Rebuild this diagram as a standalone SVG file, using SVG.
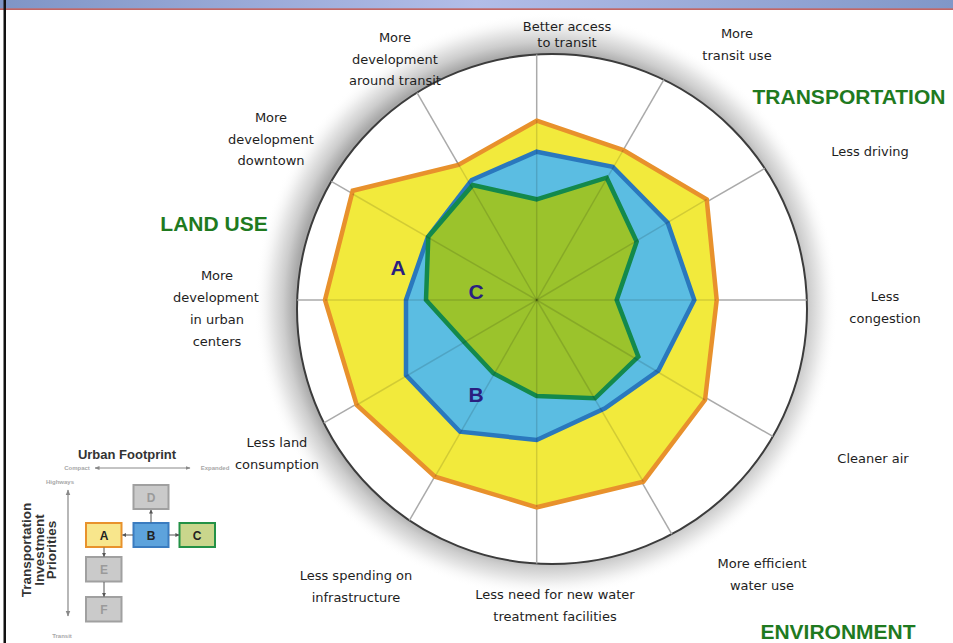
<svg xmlns="http://www.w3.org/2000/svg" width="953" height="643" viewBox="0 0 953 643">
  <defs>
    <linearGradient id="banner" x1="0" y1="0" x2="1" y2="0">
      <stop offset="0" stop-color="#7f95c6"/>
      <stop offset="0.5" stop-color="#b2bde8"/>
      <stop offset="1" stop-color="#8097c8"/>
    </linearGradient>
    <radialGradient id="halo" gradientUnits="userSpaceOnUse" cx="546" cy="305" r="292">
      <stop offset="0.86" stop-color="#a8a8a8"/>
      <stop offset="0.9" stop-color="#cdcdcd"/>
      <stop offset="0.95" stop-color="#eeeeee"/>
      <stop offset="1" stop-color="#ffffff" stop-opacity="0"/>
    </radialGradient>
    <marker id="ah" viewBox="0 0 10 10" refX="9" refY="5" markerWidth="4" markerHeight="4" orient="auto-start-reverse">
      <path d="M0,0 L10,5 L0,10 z" fill="#555"/>
    </marker>
    <marker id="ahg" viewBox="0 0 10 10" refX="9" refY="5" markerWidth="5" markerHeight="5" orient="auto-start-reverse">
      <path d="M0,1 L10,5 L0,9 z" fill="#888"/>
    </marker>
    <style>
      .lbl { font-family: "DejaVu Sans", Verdana, sans-serif; font-size: 13px; fill: #1e1e1e; text-anchor: middle; }
      .cat { font-family: "Liberation Sans", Arial, sans-serif; font-weight: bold; font-size: 21px; fill: #1f7a1f; text-anchor: middle; }
      .abc { font-family: "Liberation Sans", Arial, sans-serif; font-weight: bold; font-size: 21px; fill: #2a1f80; text-anchor: middle; }
      .spoke { stroke: #aaaaaa; stroke-width: 1.5; fill: none; }
      .spoke2 { stroke: #000; stroke-opacity: 0.13; stroke-width: 1.5; fill: none; }
      .ins { font-family: "Liberation Sans", Arial, sans-serif; font-weight: bold; text-anchor: middle; }
      .box { stroke-width: 2; }
      .gbox { fill: #cacaca; stroke: #a0a0a0; stroke-width: 2; }
      .gl { fill: #9a9a9a; font-size: 12px; }
      .tiny { fill: #a8a8a8; font-size: 6px; }
      .ia { stroke: #555; stroke-width: 1; fill: none; }
    </style>
  </defs>

  <rect x="0" y="0" width="953" height="643" fill="#ffffff"/>
  <rect x="0" y="0" width="953" height="8.5" fill="url(#banner)"/>
  <rect x="0" y="8.5" width="953" height="1.2" fill="#a42424"/>
  <rect x="3.5" y="0" width="2.5" height="643" fill="#111"/>

  <!-- radar chart -->
  <g id="chart">
    <circle cx="546" cy="305" r="292" fill="url(#halo)"/>
    <circle cx="552" cy="309" r="255" fill="#ffffff" stroke="#3c3c3c" stroke-width="2"/>
    <g id="spokes" class="spoke">
      <line x1="536.7" y1="300" x2="536.7" y2="54.5"/>
      <line x1="536.7" y1="300" x2="663.9" y2="79.7"/>
      <line x1="536.7" y1="300" x2="764.7" y2="168.4"/>
      <line x1="536.7" y1="300" x2="806.8" y2="300"/>
      <line x1="536.7" y1="300" x2="772.9" y2="436.4"/>
      <line x1="536.7" y1="300" x2="671.8" y2="534.1"/>
      <line x1="536.7" y1="300" x2="536.7" y2="563.5"/>
      <line x1="536.7" y1="300" x2="409.4" y2="520.4"/>
      <line x1="536.7" y1="300" x2="323.9" y2="422.9"/>
      <line x1="536.7" y1="300" x2="297.2" y2="300"/>
      <line x1="536.7" y1="300" x2="331.3" y2="181.4"/>
      <line x1="536.7" y1="300" x2="417" y2="92.7"/>
    </g>
    <polygon id="polyA" points="536.7,120.7 623.3,150 706.7,199.3 716.7,300 705,400 643.3,481.7 536.7,507.3 435,476.7 356.7,405 325,300 352.7,190.7 458.3,165" fill="#f2ea3c" stroke="#e8912c" stroke-width="4.5" stroke-linejoin="miter"/>
    <polygon id="polyB" points="536.7,151.7 612.7,166.7 667.7,222.7 694.3,300 658.3,370.7 605,408.3 536.7,440 460,431.7 406,375 406,300 427.7,237.3 471.7,180" fill="#5bbde2" stroke="#2a78bd" stroke-width="4.5"/>
    <polygon id="polyC" points="536.7,199.3 606.7,177.7 636.7,241.7 616.7,300 638.3,356.7 595,398.3 536.7,396 493.3,373.3 466,344 426,300 428.3,236.7 472.7,185" fill="#9bc32c" stroke="#13894c" stroke-width="4.5"/>
    <g id="spokes-overlay" class="spoke2">
      <line x1="536.7" y1="300" x2="536.7" y2="120"/>
      <line x1="536.7" y1="300" x2="623.3" y2="150"/>
      <line x1="536.7" y1="300" x2="706.7" y2="199.3"/>
      <line x1="536.7" y1="300" x2="716" y2="300"/>
      <line x1="536.7" y1="300" x2="705" y2="400"/>
      <line x1="536.7" y1="300" x2="643.3" y2="481.7"/>
      <line x1="536.7" y1="300" x2="536.7" y2="507"/>
      <line x1="536.7" y1="300" x2="435" y2="476.7"/>
      <line x1="536.7" y1="300" x2="356.7" y2="405"/>
      <line x1="536.7" y1="300" x2="325" y2="300"/>
      <line x1="536.7" y1="300" x2="352.7" y2="194"/>
      <line x1="536.7" y1="300" x2="456" y2="160"/>
    </g>
    <text class="abc" x="398" y="275">A</text>
    <text class="abc" x="476" y="299">C</text>
    <text class="abc" x="476" y="402">B</text>
  </g>

  <!-- axis labels -->
  <g id="labels">
    <text class="lbl" x="567" y="31">Better access</text>
    <text class="lbl" x="567" y="47">to transit</text>
    <text class="lbl" x="395" y="42">More</text>
    <text class="lbl" x="395" y="64">development</text>
    <text class="lbl" x="395" y="85">around transit</text>
    <text class="lbl" x="737" y="38">More</text>
    <text class="lbl" x="737" y="60">transit use</text>
    <text class="lbl" x="870" y="156">Less driving</text>
    <text class="lbl" x="271" y="122">More</text>
    <text class="lbl" x="271" y="144">development</text>
    <text class="lbl" x="271" y="165">downtown</text>
    <text class="lbl" x="217" y="280">More</text>
    <text class="lbl" x="216" y="302">development</text>
    <text class="lbl" x="217" y="324">in urban</text>
    <text class="lbl" x="217" y="346">centers</text>
    <text class="lbl" x="885" y="301">Less</text>
    <text class="lbl" x="885" y="323">congestion</text>
    <text class="lbl" x="873" y="463">Cleaner air</text>
    <text class="lbl" x="277" y="447">Less land</text>
    <text class="lbl" x="277" y="469">consumption</text>
    <text class="lbl" x="762" y="568">More efficient</text>
    <text class="lbl" x="762" y="590">water use</text>
    <text class="lbl" x="356" y="580">Less spending on</text>
    <text class="lbl" x="356" y="602">infrastructure</text>
    <text class="lbl" x="555" y="599">Less need for new water</text>
    <text class="lbl" x="555" y="621">treatment facilities</text>
  </g>

  <g id="categories">
    <text class="cat" x="849" y="104">TRANSPORTATION</text>
    <text class="cat" x="214" y="231">LAND USE</text>
    <text class="cat" x="838" y="639">ENVIRONMENT</text>
  </g>

  <!-- inset legend -->
  <g id="inset">
    <text class="ins" x="127" y="459" font-size="13" fill="#333">Urban Footprint</text>
    <text class="ins tiny" x="77" y="470">Compact</text>
    <text class="ins tiny" x="215" y="470">Expanded</text>
    <line x1="95" y1="468" x2="190" y2="468" stroke="#888" stroke-width="1" marker-start="url(#ahg)" marker-end="url(#ahg)"/>
    <text class="ins tiny" x="60" y="484">Highways</text>
    <text class="ins tiny" x="62" y="638">Transit</text>
    <line x1="68" y1="490" x2="68" y2="616" stroke="#888" stroke-width="1.2" marker-start="url(#ahg)" marker-end="url(#ahg)"/>
    <g transform="translate(39,550) rotate(-90)">
      <text class="ins" x="0" y="-8" font-size="13.5" fill="#333">Transportation</text>
      <text class="ins" x="0" y="4.5" font-size="13.5" fill="#333">Investment</text>
      <text class="ins" x="0" y="17" font-size="13.5" fill="#333">Priorities</text>
    </g>
  </g>
  <g id="boxD"><rect class="gbox" x="133.5" y="485" width="35" height="24"/><text class="ins gl" x="151" y="501.5">D</text></g>
  <g id="boxA"><rect class="box" x="86" y="523" width="35.5" height="24" fill="#f8e68c" stroke="#e8922c"/><text class="ins" x="104" y="539.5" font-size="12" fill="#222">A</text></g>
  <g id="boxB"><rect class="box" x="133.5" y="523" width="35" height="24" fill="#5da3dc" stroke="#3a7cc0"/><text class="ins" x="151" y="539.5" font-size="12" fill="#222">B</text></g>
  <g id="boxC"><rect class="box" x="179.5" y="523" width="35.5" height="24" fill="#c9d68c" stroke="#239146"/><text class="ins" x="197" y="539.5" font-size="12" fill="#222">C</text></g>
  <g id="boxE"><rect class="gbox" x="86" y="557" width="35.5" height="24.5"/><text class="ins gl" x="104" y="573.5">E</text></g>
  <g id="boxF"><rect class="gbox" x="86" y="597" width="35.5" height="24.5"/><text class="ins gl" x="104" y="613.5">F</text></g>
  <g id="inset-connectors">
    <line class="ia" x1="133" y1="535" x2="122.5" y2="535" marker-end="url(#ah)"/>
    <line class="ia" x1="169" y1="535" x2="179" y2="535" marker-end="url(#ah)"/>
    <line class="ia" x1="151" y1="522.5" x2="151" y2="510" marker-end="url(#ah)"/>
    <line class="ia" x1="104" y1="547.5" x2="104" y2="556.5" marker-end="url(#ah)"/>
    <line class="ia" x1="104" y1="582" x2="104" y2="596.5" marker-end="url(#ah)"/>
  </g>
</svg>
